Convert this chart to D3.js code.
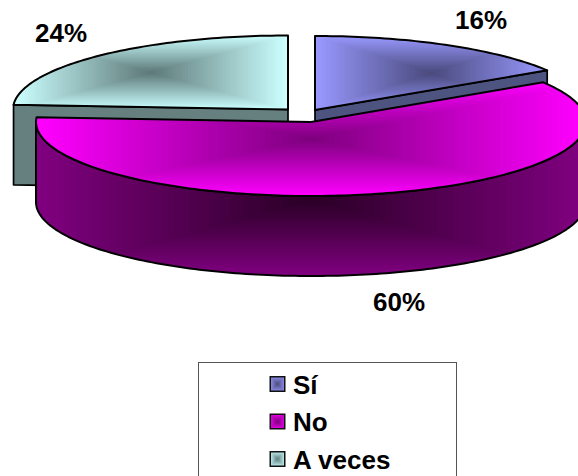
<!DOCTYPE html>
<html><head><meta charset="utf-8">
<script src="https://cdn.jsdelivr.net/npm/d3@7/dist/d3.min.js"></script>
<style>html,body{margin:0;padding:0;background:#fff;overflow:hidden}svg{display:block}text{font-family:"Liberation Sans",Arial,sans-serif;font-weight:bold;fill:#000}</style>
</head><body><svg id="c" width="578" height="476"></svg>
<script>
const categories = ["Sí", "No", "A veces"];
const values = [16, 60, 24];
const labels = ["16%", "60%", "24%"];

const W = 578, H = 476, rx = 275, ry = 74, depth = 80;
const centers = [[315,110],[311,122],[288,109.5]];
const labelPos = [[481,29],[399,311],[61,41.5]];
const topEdge = ["#9999ff","#ff00ff","#ccffff"];
const topMid  = ["#4b4b7e","#7f007f","#5f7a7a"];
const wallEdge = ["#4e5480","#800080","#668080"];
const wallMid  = ["#4e5480","#2a0026","#668080"];

const svg = d3.select("#c");
const defs = svg.append("defs");
const slices = d3.pie().sort(null).value(d=>d)(values);
const line = d3.line();
const proj = (c,a,dy=0)=>[c[0]+rx*Math.sin(a), c[1]-ry*Math.cos(a)+dy];
const arcPts = (c,a0,a1,dy=0)=>{
  const n = Math.ceil((a1-a0)/0.02);
  return d3.range(n+1).map(i=>proj(c,a0+(a1-a0)*i/n,dy));
};
function bbox(pts){return [d3.min(pts,p=>p[0]),d3.min(pts,p=>p[1]),d3.max(pts,p=>p[0]),d3.max(pts,p=>p[1])];}

function fillShape(g,id,pathD,box,edge,mid){
  defs.append("clipPath").attr("id",id).append("path").attr("d",pathD);
  const steps=48, col=d3.interpolateRgb(edge,mid);
  const [x0,y0,x1,y1]=box, gg=g.append("g").attr("clip-path",`url(#${id})`);
  gg.selectAll("rect").data(d3.range(steps)).join("rect")
    .attr("x",i=>x0+(x1-x0)/2*i/steps).attr("y",i=>y0+(y1-y0)/2*i/steps)
    .attr("width",i=>(x1-x0)*(1-i/steps)).attr("height",i=>(y1-y0)*(1-i/steps))
    .attr("fill",i=>col(i/(steps-1)));
  g.append("path").attr("d",pathD).attr("fill","none").attr("stroke","#000").attr("stroke-width",2).attr("stroke-linejoin","round");
}

const order=[2,0,1];
order.forEach(k=>{
  const s=slices[k], c=centers[k], g=svg.append("g");
  const rim=arcPts(c,s.startAngle,s.endAngle);
  const visible=[];
  if(Math.sin(s.startAngle)<-1e-6) visible.push(s.startAngle);
  if(Math.sin(s.endAngle)>1e-6) visible.push(s.endAngle);
  visible.forEach(a=>{
    const p=proj(c,a);
    g.append("path").attr("d",line([c,p,[p[0],p[1]+depth],[c[0],c[1]+depth]])+"Z")
      .attr("fill",wallEdge[k]).attr("stroke","#000").attr("stroke-width",1.7).attr("stroke-linejoin","round");
  });
  const a0=Math.max(s.startAngle,Math.PI/2), a1=Math.min(s.endAngle,Math.PI*1.5);
  if(a1>a0){
    const up=arcPts(c,a0,a1), low=arcPts(c,a0,a1,depth).reverse();
    const wallD=line(up.concat(low))+"Z";
    const wallBox=[bbox(rim)[0],c[1],bbox(rim)[2],c[1]+ry+depth];
    fillShape(g,"w"+k,wallD,wallBox,wallEdge[k],wallMid[k]);
  }
  const topPts=[c].concat(rim);
  fillShape(g,"t"+k,line(topPts)+"Z",bbox(topPts),topEdge[k],topMid[k]);
});

svg.selectAll("text.pct").data(labels).join("text").attr("class","pct")
  .attr("x",(d,i)=>labelPos[i][0]).attr("y",(d,i)=>labelPos[i][1])
  .attr("text-anchor","middle").attr("font-size",26).text(d=>d);

// legend
const lx=198.5, ly=362.5;
svg.append("rect").attr("x",lx).attr("y",ly).attr("width",258).attr("height",120).attr("fill","#fff").attr("stroke","#555").attr("stroke-width",1);
const ys=d3.scalePoint().domain(categories).range([384,459]);
const legendEdge=["#8484dc","#d800d8","#b0e0e0"], legendMid=["#55558c","#8a008a","#6f8c8c"];
categories.forEach((c,k)=>{
  const y=ys(c), g=svg.append("g");
  const col=d3.interpolateRgb(legendEdge[k],legendMid[k]);
  g.append("rect").attr("x",269.5).attr("y",y-8).attr("width",16).attr("height",16).attr("fill","#111");
  d3.range(6).forEach(i=>g.append("rect").attr("x",271+i).attr("y",y-6.5+i).attr("width",13-2*i).attr("height",13-2*i).attr("fill",col(i/5)));
  svg.append("text").attr("x",293).attr("y",y+9.5).attr("font-size",26).text(c);
});
</script></body></html>
